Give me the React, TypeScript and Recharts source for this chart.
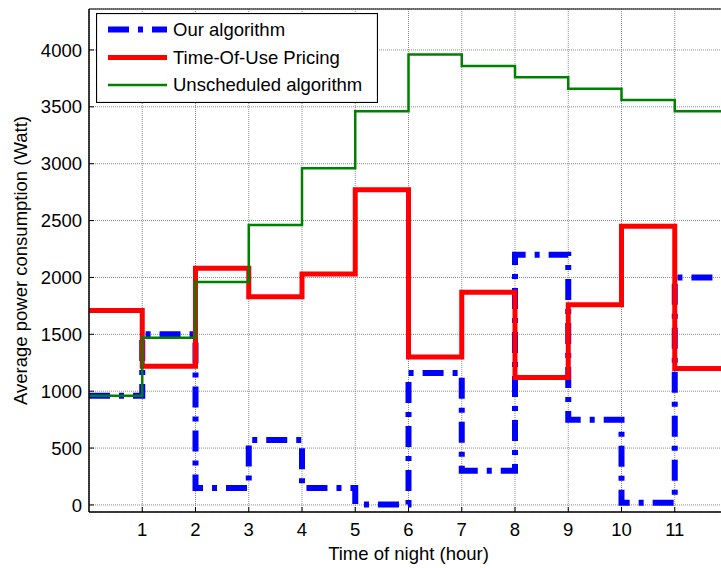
import React from "react";
import { LineChart, Line, XAxis, YAxis, CartesianGrid, Legend, Label } from "recharts";

const hours = [0, 1, 2, 3, 4, 5, 6, 7, 8, 9, 10, 11, 12];
const ourAlgorithm = [960, 1500, 150, 570, 150, 5, 1160, 300, 2200, 750, 20, 2000, 2000];
const timeOfUse = [1710, 1220, 2080, 1830, 2030, 2770, 1300, 1870, 1120, 1760, 2450, 1200, 1200];
const unscheduled = [960, 1470, 1960, 2460, 2960, 3460, 3960, 3860, 3760, 3660, 3560, 3460, 3460];
const xTicks = [1, 2, 3, 4, 5, 6, 7, 8, 9, 10, 11];
const yTicks = [0, 500, 1000, 1500, 2000, 2500, 3000, 3500, 4000];
const seriesNames = ["Our algorithm", "Time-Of-Use Pricing", "Unscheduled algorithm"];

const data = hours.map((h, i) => ({
  hour: h,
  ours: ourAlgorithm[i],
  tou: timeOfUse[i],
  uns: unscheduled[i],
}));

const FONT = '"Liberation Sans", Arial, sans-serif';
const FS = 18.5;

const LegendBox = () => (
  <svg width={282} height={90} style={{ display: "block" }}>
    <rect x={0.5} y={0.5} width={281} height={89} fill="#fff" stroke="#000" strokeWidth={1.2} />
    <line x1={12} x2={71} y1={16.5} y2={16.5} stroke="#0000FF" strokeWidth={6} strokeDasharray="21 9 5 9" />
    <line x1={12} x2={71} y1={44.5} y2={44.5} stroke="#FF0000" strokeWidth={5} />
    <line x1={12} x2={71} y1={72} y2={72} stroke="#008000" strokeWidth={2.5} />
    {seriesNames.map((n, i) => (
      <text key={n} x={77} y={[16.5, 44.5, 72][i]} dy="0.35em" fontFamily={FONT} fontSize={FS} fill="#000">
        {n}
      </text>
    ))}
  </svg>
);

const YLabel = (props: any) => {
  const vb = props.viewBox || {};
  const cx = (vb.x || 0) + 20;
  const cy = (vb.y || 0) + (vb.height || 0) / 2;
  return (
    <text
      x={cx}
      y={cy}
      transform={`rotate(-90 ${cx} ${cy})`}
      textAnchor="middle"
      dominantBaseline="central"
      fontFamily={FONT}
      fontSize={FS}
      fill="#000"
    >
      Average power consumption (Watt)
    </text>
  );
};

export default function App() {
  return (
    <div style={{ position: "absolute", left: 0, top: 0, width: 721, height: 568, overflow: "hidden", background: "#fff" }}>
      <LineChart
        width={728}
        height={568}
        data={data}
        margin={{ top: 8, right: 0, bottom: 0, left: 0 }}
        style={{ fontFamily: FONT }}
      >
        <CartesianGrid stroke="#8c8c8c" strokeDasharray="1 1" strokeWidth={1} />
        <XAxis
          dataKey="hour"
          type="number"
          domain={[0, 12]}
          ticks={xTicks}
          height={56}
          tickSize={-5}
          tickMargin={16}
          tick={{ fill: "#000", fontSize: FS, fontFamily: FONT }}
          axisLine={{ stroke: "#000", strokeWidth: 1.5 }}
          tickLine={{ stroke: "#000" }}
        >
          <Label value="Time of night (hour)" position="insideBottom" offset={8} fill="#000" fontSize={FS} fontFamily={FONT} />
        </XAxis>
        <XAxis
          xAxisId="top"
          dataKey="hour"
          type="number"
          orientation="top"
          domain={[0, 12]}
          ticks={xTicks}
          height={1}
          tickSize={-5}
          tick={false}
          axisLine={{ stroke: "#000", strokeWidth: 1.2 }}
          tickLine={{ stroke: "#000" }}
        />
        <YAxis
          type="number"
          domain={[-62, 4360]}
          ticks={yTicks}
          width={89}
          allowDataOverflow
          tickSize={-5}
          tickMargin={12}
          tick={{ fill: "#000", fontSize: FS, fontFamily: FONT }}
          axisLine={{ stroke: "#000", strokeWidth: 1.5 }}
          tickLine={{ stroke: "#000" }}
        >
          <Label content={YLabel} />
        </YAxis>
        <Legend
          layout="horizontal"
          verticalAlign="middle"
          align="center"
          content={() => <LegendBox />}
          wrapperStyle={{ left: 96, top: 13, width: 282, height: 90 }}
        />
        <Line
          type="stepAfter"
          dataKey="ours"
          name={seriesNames[0]}
          stroke="#0000FF"
          strokeWidth={6}
          strokeDasharray="21 9 5 9"
          dot={false}
          activeDot={false}
          isAnimationActive={false}
        />
        <Line
          type="stepAfter"
          dataKey="tou"
          name={seriesNames[1]}
          stroke="#FF0000"
          strokeWidth={5}
          dot={false}
          activeDot={false}
          isAnimationActive={false}
        />
        <Line
          type="stepAfter"
          dataKey="uns"
          name={seriesNames[2]}
          stroke="#008000"
          strokeWidth={2.5}
          dot={false}
          activeDot={false}
          isAnimationActive={false}
        />
      </LineChart>
    </div>
  );
}
